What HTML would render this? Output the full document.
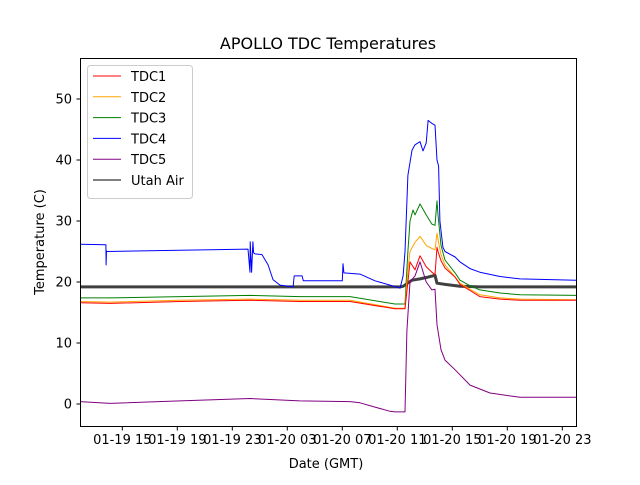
<!DOCTYPE html>
<html><head><meta charset="utf-8"><style>
body{margin:0;background:#fff}
svg{font-family:"DejaVu Sans","Liberation Sans",sans-serif}
</style></head><body>
<svg id="chart" width="640" height="480" viewBox="0 0 640 480" xmlns="http://www.w3.org/2000/svg">
<rect width="640" height="480" fill="#fff"/>
<text x="328" y="49" font-size="16" text-anchor="middle">APOLLO TDC Temperatures</text>
<text x="326" y="468" font-size="13" text-anchor="middle">Date (GMT)</text>
<text transform="translate(44,242) rotate(-90)" font-size="13" text-anchor="middle">Temperature (C)</text>
<g id="plot"></g>
<rect x="80.5" y="58.5" width="496" height="368" fill="none" stroke="#000" stroke-width="1"/>
<g id="legend"></g>
</svg>
<script>
const xTickLabels=["01-19 15","01-19 19","01-19 23","01-20 03","01-20 07","01-20 11","01-20 15","01-20 19","01-20 23"];
const xTickHours=[0,4,8,12,16,20,24,28,32];
const yTicks=[0,10,20,30,40,50];
const seriesNames=["TDC1","TDC2","TDC3","TDC4","TDC5","Utah Air"];
const seriesColors=["red","orange","green","blue","purple","black"];
// hours since 01-19 15:00
const tdc1H=[-3.08,-0.89,4.2,9.29,12.92,16.56,19.83,20.56,20.77,20.92,21.29,21.65,22.1,22.52,22.74,22.89,22.96,23.18,23.47,24.2,24.56,25.29,26.0,27.47,28.92,33.0];
const tdc1V=[16.6,16.5,16.8,17.0,16.8,16.8,15.6,15.6,20,23.3,22,24.3,22.5,21.6,21.2,25.7,25,23.5,22.3,20.8,19.6,18.6,17.6,17.2,17.0,17.0];
const tdc2H=[-3.08,-0.89,4.2,9.29,12.92,16.56,19.83,20.56,20.77,20.92,21.29,21.65,22.1,22.52,22.74,22.89,22.96,23.18,23.47,24.2,24.56,25.29,26.0,27.47,28.92,33.0];
const tdc2V=[16.8,16.7,17.0,17.2,17.0,17.0,15.7,15.7,22,25,26.5,27.5,26,25.5,25.3,28,27,24.5,22.8,20.8,19.8,18.8,17.9,17.4,17.2,17.1];
const tdc3H=[-3.08,-0.89,4.2,9.29,12.92,16.56,19.83,20.56,20.77,20.92,21.14,21.29,21.65,22.1,22.52,22.74,22.89,22.96,23.18,23.47,24.2,24.56,25.29,26.0,27.47,28.92,33.0];
const tdc3V=[17.4,17.4,17.6,17.8,17.6,17.6,16.4,16.4,25,30,31.8,31,32.8,31,29.5,29.3,33.3,31,26,23.6,21.5,20.3,19.4,18.7,18.2,17.9,17.8];
const tdc4H=[-3.08,-1.19,-1.18,-1.15,-1.12,9.14,9.29,9.3,9.4,9.5,9.55,9.65,10.16,10.6,10.96,11.47,12.42,12.5,13.08,13.16,15.1,16.0,16.05,16.12,17.29,18.38,19.47,20.2,20.42,20.56,20.77,21.07,21.29,21.65,21.87,22.1,22.24,22.52,22.74,22.89,23.0,23.1,23.32,23.47,24.2,24.56,25.29,26.0,27.47,28.92,33.0];
const tdc4V=[26.2,26.1,22.8,25.1,25.0,25.4,21.6,26.6,21.6,26.6,24.8,24.6,24.5,22.8,20.4,19.5,19.2,21.0,21.0,20.2,20.2,20.2,23.0,21.5,21.3,20.2,19.5,19.0,21.0,25,37.5,41.6,42.5,43,41.5,42.8,46.5,46,45.7,40,39,30,25.7,25.0,24.1,23.3,22.2,21.6,20.9,20.5,20.3];
const tdc5H=[-3.08,-0.89,4.2,9.29,12.92,16.56,17.29,18.38,19.47,19.83,20.56,20.7,20.92,21.29,21.65,22.1,22.52,22.74,22.89,23.18,23.47,24.2,25.29,26.74,28.92,33.0];
const tdc5V=[0.4,0.1,0.5,0.9,0.5,0.4,0.2,-0.5,-1.2,-1.3,-1.3,12,20,21,23.3,20,18.7,18.8,13,8.9,7.2,5.6,3.1,1.8,1.1,1.1];
const airH=[-3.08,20.2,20.42,21.07,21.65,22.24,22.74,22.89,23.47,24.56,26.0,33.0];
const airV=[19.2,19.2,19.3,20.3,20.5,20.8,21.1,19.8,19.6,19.3,19.2,19.2];
const seriesH=[tdc1H,tdc2H,tdc3H,tdc4H,tdc5H,airH];
const seriesV=[tdc1V,tdc2V,tdc3V,tdc4V,tdc5V,airV];

const NS="http://www.w3.org/2000/svg";
const xs=h=>122.3+h*13.75;
const ys=v=>404-v*6.1;
const plot=document.getElementById('plot');
const svg=document.getElementById('chart');
function mk(tag,attrs,parent){const e=document.createElementNS(NS,tag);for(const k in attrs)e.setAttribute(k,attrs[k]);parent.appendChild(e);return e;}
const clip=mk('clipPath',{id:'clip'},svg);mk('rect',{x:80,y:58,width:497,height:369},clip);
plot.setAttribute('clip-path','url(#clip)');
xTickHours.forEach((h,i)=>{
  const x=xs(h);
  const t=mk('line',{x1:x,x2:x,y1:427,y2:430.5,stroke:'#000','stroke-width':1},svg);
  
  
  const l=mk('text',{x:x,y:444,'font-size':13,'text-anchor':'middle'},svg);
  l.textContent=xTickLabels[i];
  
  
});
yTicks.forEach(v=>{
  const y=ys(v);
  const t=mk('line',{x1:76.5,x2:80,y1:y,y2:y,stroke:'#000','stroke-width':1},svg);
  
  
  const l=mk('text',{x:72,y:y+4.5,'font-size':13,'text-anchor':'end'},svg);
  l.textContent=v;
  
  
});
const order=[5,2,1,0,4,3];
order.forEach(i=>{
  const d=seriesH[i].map((h,j)=>(j?'L':'M')+xs(h).toFixed(1)+' '+ys(seriesV[i][j]).toFixed(1)).join(' ');
  const p=mk('path',{d:d,fill:'none',stroke:seriesColors[i],'stroke-width':i==5?3:1,'stroke-opacity':i==5?0.75:1,'stroke-linejoin':'round'},plot);
  
  
});
const lg=document.getElementById('legend');
const box=mk('rect',{x:87.5,y:65.5,width:105,height:133,rx:3,fill:'#fff','fill-opacity':0.8,stroke:'#ccc'},lg);


seriesNames.forEach((n,i)=>{
  const y=76+i*20.8;
  const ln=mk('line',{x1:93,x2:121,y1:y,y2:y,stroke:seriesColors[i],'stroke-width':1},lg);
  
  
  const t=mk('text',{x:131,y:y+5,'font-size':13},lg);
  t.textContent=n;
  
  
});
</script>
</body></html>
